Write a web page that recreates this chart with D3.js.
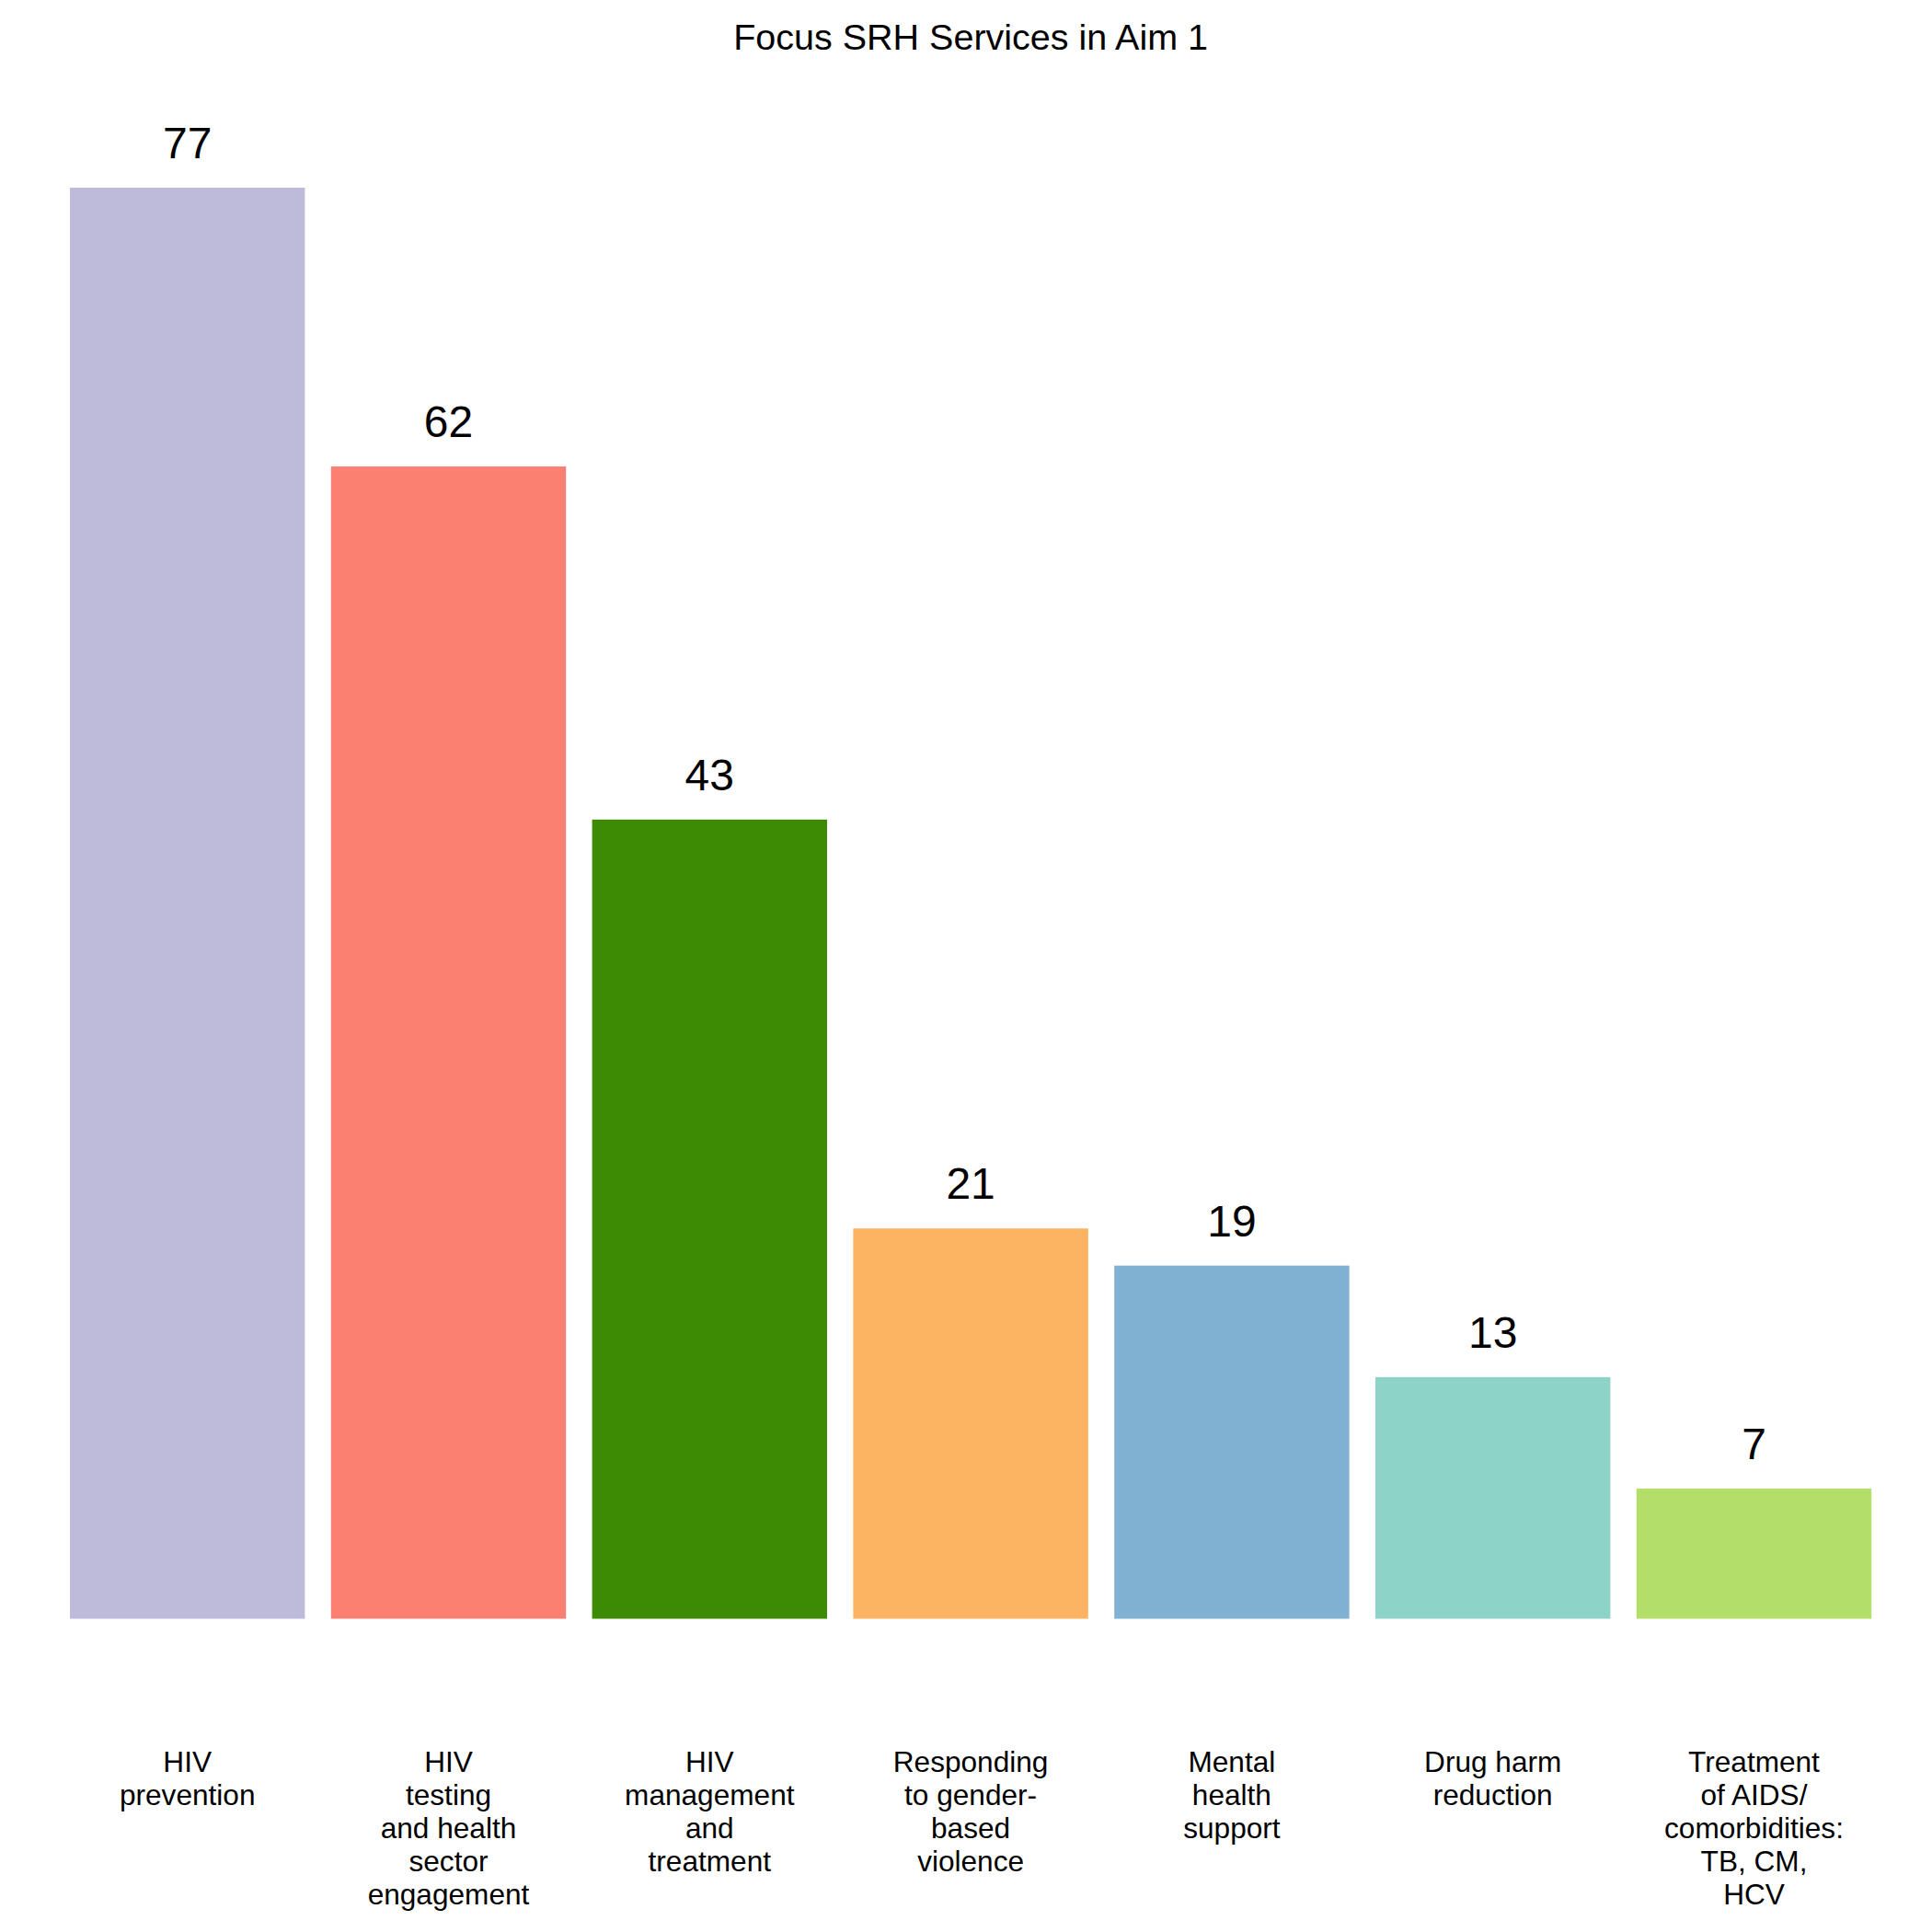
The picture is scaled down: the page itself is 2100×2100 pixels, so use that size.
<!DOCTYPE html>
<html>
<head>
<meta charset="utf-8">
<script src="https://cdn.jsdelivr.net/npm/d3@7"></script>
<style>
  body { margin: 0; background: #fff; }
  text { font-family: "Liberation Sans", Arial, sans-serif; fill: #000; }
</style>
</head>
<body>
<div id="chart"></div>
<script>
// data
const categories = [
  "HIV\nprevention",
  "HIV\ntesting\nand health\nsector\nengagement",
  "HIV\nmanagement\nand\ntreatment",
  "Responding\nto gender-\nbased\nviolence",
  "Mental\nhealth\nsupport",
  "Drug harm\nreduction",
  "Treatment\nof AIDS/\ncomorbidities:\nTB, CM,\nHCV"
];
const counts = [77, 62, 43, 21, 19, 13, 7];
const barColors = ["#BEBADA", "#FB8072", "#3D8B04", "#FDB462", "#80B1D3", "#8DD3C7", "#B3DE69"];
const title = "Focus SRH Services in Aim 1";

const width = 2100, height = 2100;

const svg = d3.select("#chart")
  .append("svg")
  .attr("width", width)
  .attr("height", height);

svg.append("rect")
  .attr("width", width)
  .attr("height", height)
  .attr("fill", "#fff");

// scales
const x = d3.scaleBand()
  .domain(categories)
  .range([61.8, 2048.4])
  .paddingInner(0.1)
  .paddingOuter(0.05);

const y = d3.scaleLinear()
  .domain([0, d3.max(counts)])
  .range([1759.5, 204]);

const color = d3.scaleOrdinal()
  .domain(categories)
  .range(barColors);

const data = categories.map((c, i) => ({ cat: c, n: counts[i] }));

// bars
svg.selectAll(".bar")
  .data(data)
  .enter().append("rect")
  .attr("class", "bar")
  .attr("x", d => x(d.cat))
  .attr("y", d => y(d.n))
  .attr("width", x.bandwidth())
  .attr("height", d => y(0) - y(d.n))
  .attr("fill", d => color(d.cat));

// value labels
svg.selectAll(".val")
  .data(data)
  .enter().append("text")
  .attr("class", "val")
  .attr("x", d => x(d.cat) + x.bandwidth() / 2)
  .attr("y", d => y(d.n) - 32)
  .attr("text-anchor", "middle")
  .attr("font-size", 48)
  .text(d => d.n);

// category labels (multi-line)
const labels = svg.selectAll(".cat")
  .data(data)
  .enter().append("text")
  .attr("class", "cat")
  .attr("text-anchor", "middle")
  .attr("font-size", 31.6);

labels.selectAll("tspan")
  .data(d => d.cat.split("\n").map(line => ({ line, cx: x(d.cat) + x.bandwidth() / 2 })))
  .enter().append("tspan")
  .attr("x", d => d.cx)
  .attr("y", (d, i) => 1925.7 + i * 36)
  .text(d => d.line);

// title
svg.append("text")
  .attr("x", (x.range()[0] + x.range()[1]) / 2)
  .attr("y", 54)
  .attr("text-anchor", "middle")
  .attr("font-size", 39.5)
  .text(title);
</script>
</body>
</html>
